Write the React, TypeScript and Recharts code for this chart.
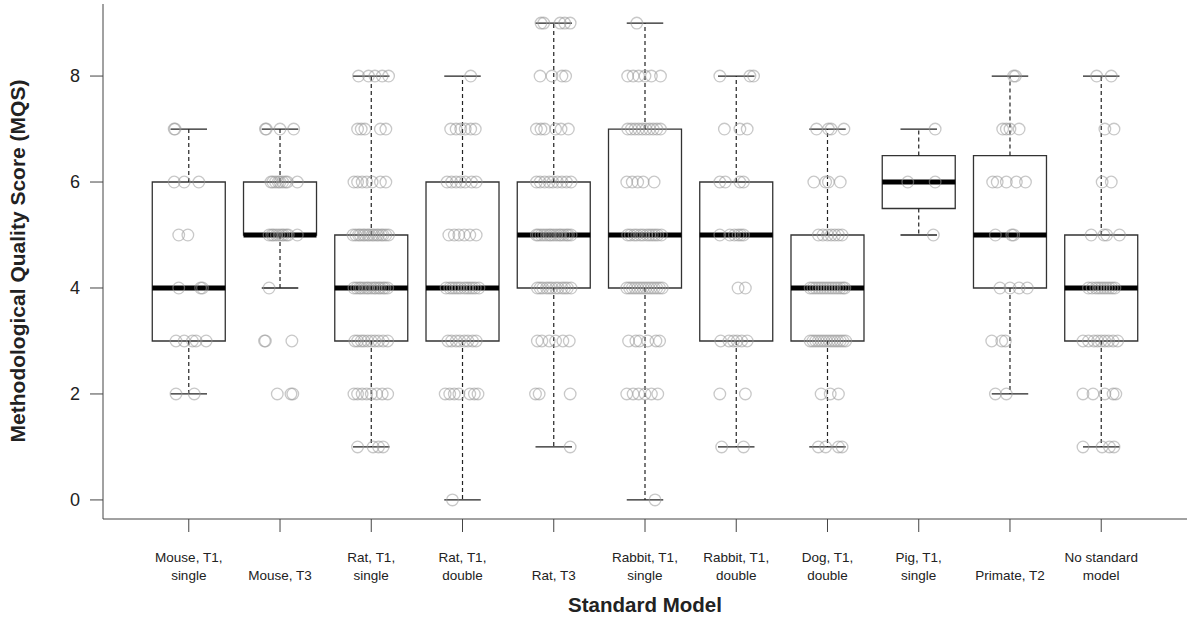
import { ComposedChart, XAxis, YAxis, Scatter, ReferenceArea, ReferenceLine } from "recharts";

// category labels, one entry per line of the tick text
const categoryLines: string[][] = [
  ["Mouse, T1,", "single"],
  ["Mouse, T3"],
  ["Rat, T1,", "single"],
  ["Rat, T1,", "double"],
  ["Rat, T3"],
  ["Rabbit, T1,", "single"],
  ["Rabbit, T1,", "double"],
  ["Dog, T1,", "double"],
  ["Pig, T1,", "single"],
  ["Primate, T2"],
  ["No standard", "model"],
];

// box statistics per category
const whiskerLow = [2, 4, 1, 0, 1, 0, 1, 1, 5, 2, 1];
const boxQ1 = [3, 5, 3, 3, 4, 4, 3, 3, 5.5, 4, 3];
const boxMedian = [4, 5, 4, 4, 5, 5, 5, 4, 6, 5, 4];
const boxQ3 = [6, 6, 5, 6, 6, 7, 6, 5, 6.5, 6.5, 5];
const whiskerHigh = [7, 7, 8, 8, 9, 9, 8, 7, 7, 8, 8];

// individual studies: [MQS, horizontal jitter in category units]
const mouseT1Single = [
  [7, -0.16], [7, -0.15],
  [6, -0.16], [6, -0.05], [6, 0.11],
  [5, -0.11], [5, -0.01],
  [4, -0.11], [4, 0.13], [4, 0.15],
  [3, -0.14], [3, -0.05], [3, 0.04], [3, 0.08], [3, 0.19],
  [2, -0.14], [2, 0.06],
];

const mouseT3 = [
  [7, -0.16], [7, -0.15], [7, 0.0], [7, 0.15],
  [6, -0.1], [6, -0.08], [6, -0.05], [6, -0.02], [6, 0.0], [6, 0.03], [6, 0.06], [6, 0.08], [6, 0.19],
  [5, -0.12], [5, -0.09], [5, -0.07], [5, -0.04], [5, -0.01], [5, 0.02], [5, 0.04], [5, 0.07], [5, 0.09], [5, 0.19],
  [4, -0.12],
  [3, -0.17], [3, -0.16], [3, 0.13],
  [2, -0.03], [2, 0.12], [2, 0.14],
];

const ratT1Single = [
  [8, -0.14], [8, -0.03], [8, 0.04], [8, 0.12], [8, 0.19],
  [7, -0.15], [7, -0.11], [7, -0.07], [7, 0.1], [7, 0.16],
  [6, -0.19], [6, -0.15], [6, -0.1], [6, -0.05], [6, 0.01], [6, 0.1], [6, 0.16],
  [5, -0.2], [5, -0.17], [5, -0.14], [5, -0.12], [5, -0.09], [5, -0.07], [5, -0.04], [5, -0.02],
  [5, 0.01], [5, 0.03], [5, 0.06], [5, 0.08], [5, 0.11], [5, 0.13], [5, 0.16], [5, 0.19],
  [4, -0.19], [4, -0.16], [4, -0.13], [4, -0.11], [4, -0.08], [4, -0.05], [4, -0.03], [4, 0.0],
  [4, 0.03], [4, 0.05], [4, 0.08], [4, 0.1], [4, 0.13], [4, 0.15], [4, 0.18],
  [3, -0.18], [3, -0.15], [3, -0.11], [3, -0.08], [3, -0.04], [3, 0.0], [3, 0.04], [3, 0.08], [3, 0.13], [3, 0.18],
  [2, -0.19], [2, -0.15], [2, -0.1], [2, -0.05], [2, 0.0], [2, 0.06], [2, 0.12], [2, 0.18],
  [1, -0.15], [1, 0.02], [1, 0.08], [1, 0.13],
];

const ratT1Double = [
  [8, 0.09],
  [7, -0.13], [7, -0.07], [7, -0.02], [7, 0.03], [7, 0.09], [7, 0.14],
  [6, -0.17], [6, -0.12], [6, -0.07], [6, -0.02], [6, 0.03], [6, 0.1], [6, 0.15],
  [5, -0.15], [5, -0.09], [5, -0.04], [5, 0.02], [5, 0.08], [5, 0.15],
  [4, -0.18], [4, -0.14], [4, -0.11], [4, -0.08], [4, -0.05], [4, -0.02],
  [4, 0.02], [4, 0.05], [4, 0.08], [4, 0.11], [4, 0.14], [4, 0.18],
  [3, -0.16], [3, -0.12], [3, -0.07], [3, -0.03], [3, 0.02], [3, 0.06], [3, 0.11], [3, 0.15],
  [2, -0.19], [2, -0.14], [2, -0.09], [2, -0.04], [2, 0.08], [2, 0.13], [2, 0.17],
  [0, -0.11],
];

const ratT3 = [
  [9, -0.14], [9, -0.11], [9, 0.07], [9, 0.12], [9, 0.18],
  [8, -0.15], [8, -0.02], [8, 0.09], [8, 0.13],
  [7, -0.19], [7, -0.14], [7, -0.1], [7, 0.02], [7, 0.08], [7, 0.16],
  [6, -0.19], [6, -0.15], [6, -0.1], [6, -0.05], [6, -0.01], [6, 0.04], [6, 0.09], [6, 0.14], [6, 0.19],
  [5, -0.19], [5, -0.17], [5, -0.14], [5, -0.11], [5, -0.08], [5, -0.05], [5, -0.03], [5, 0.0],
  [5, 0.03], [5, 0.06], [5, 0.08], [5, 0.11], [5, 0.14], [5, 0.16], [5, 0.19],
  [4, -0.18], [4, -0.15], [4, -0.12], [4, -0.08], [4, -0.05], [4, -0.02],
  [4, 0.02], [4, 0.05], [4, 0.09], [4, 0.12], [4, 0.15], [4, 0.19],
  [3, -0.18], [3, -0.13], [3, -0.05], [3, 0.02], [3, 0.1], [3, 0.17],
  [2, -0.2], [2, -0.16], [2, 0.18],
  [1, 0.18],
];

const rabbitT1Single = [
  [9, -0.09],
  [8, -0.19], [8, -0.13], [8, -0.07], [8, 0.0], [8, 0.07], [8, 0.17],
  [7, -0.19], [7, -0.15], [7, -0.11], [7, -0.07], [7, -0.03], [7, 0.01], [7, 0.05], [7, 0.09], [7, 0.13], [7, 0.17],
  [6, -0.2], [6, -0.14], [6, -0.08], [6, -0.02], [6, 0.1],
  [5, -0.19], [5, -0.16], [5, -0.12], [5, -0.09], [5, -0.05], [5, -0.02],
  [5, 0.02], [5, 0.05], [5, 0.08], [5, 0.11], [5, 0.14], [5, 0.18],
  [4, -0.2], [4, -0.17], [4, -0.14], [4, -0.11], [4, -0.08], [4, -0.05], [4, -0.02],
  [4, 0.01], [4, 0.04], [4, 0.07], [4, 0.1], [4, 0.13], [4, 0.16], [4, 0.19],
  [3, -0.18], [3, -0.1], [3, -0.06], [3, 0.03], [3, 0.12], [3, 0.16],
  [2, -0.2], [2, -0.13], [2, -0.07], [2, 0.0], [2, 0.07], [2, 0.14],
  [0, 0.11],
];

const rabbitT1Double = [
  [8, -0.18], [8, 0.15], [8, 0.19],
  [7, -0.13], [7, 0.04], [7, 0.12],
  [6, -0.18], [6, -0.12], [6, 0.04], [6, 0.08],
  [5, -0.18], [5, -0.07], [5, -0.02], [5, 0.02], [5, 0.05], [5, 0.08],
  [4, 0.02], [4, 0.1],
  [3, -0.17], [3, -0.08], [3, -0.03], [3, 0.01], [3, 0.06], [3, 0.12],
  [2, -0.18], [2, 0.1],
  [1, -0.16], [1, 0.08],
];

const dogT1Double = [
  [7, -0.12], [7, 0.01], [7, 0.04], [7, 0.18],
  [6, -0.15], [6, -0.02], [6, 0.01], [6, 0.14],
  [5, -0.1], [5, -0.05], [5, 0.0], [5, 0.04], [5, 0.08], [5, 0.12], [5, 0.16],
  [4, -0.19], [4, -0.16], [4, -0.13], [4, -0.1], [4, -0.07], [4, -0.04], [4, -0.01],
  [4, 0.02], [4, 0.05], [4, 0.08], [4, 0.11], [4, 0.14], [4, 0.17], [4, 0.19],
  [3, -0.19], [3, -0.16], [3, -0.13], [3, -0.1], [3, -0.07], [3, -0.04], [3, -0.01],
  [3, 0.02], [3, 0.05], [3, 0.08], [3, 0.11], [3, 0.14], [3, 0.17], [3, 0.2],
  [2, -0.07], [2, 0.03], [2, 0.12],
  [1, -0.1], [1, -0.02], [1, 0.12], [1, 0.16],
];

const pigT1Single = [
  [7, 0.18],
  [6, -0.12], [6, 0.18],
  [5, 0.16],
];

const primateT2 = [
  [8, 0.04], [8, 0.06],
  [7, -0.08], [7, -0.04], [7, 0.0], [7, 0.1],
  [6, -0.19], [6, -0.14], [6, -0.04], [6, 0.07], [6, 0.17],
  [5, -0.16], [5, 0.02], [5, 0.04],
  [4, -0.11], [4, 0.0], [4, 0.1], [4, 0.19],
  [3, -0.2], [3, -0.09], [3, -0.05],
  [2, -0.16], [2, -0.04],
];

const noStandardModel = [
  [8, -0.05], [8, 0.11],
  [7, 0.04], [7, 0.14],
  [6, 0.01], [6, 0.11],
  [5, -0.11], [5, 0.03], [5, 0.06], [5, 0.2],
  [4, -0.14], [4, -0.1], [4, -0.06], [4, -0.03], [4, 0.0], [4, 0.03], [4, 0.06], [4, 0.09], [4, 0.12], [4, 0.15],
  [3, -0.2], [3, -0.14], [3, -0.08], [3, -0.04], [3, 0.0], [3, 0.04], [3, 0.08], [3, 0.13], [3, 0.18],
  [2, -0.2], [2, -0.09], [2, 0.04], [2, 0.13], [2, 0.16],
  [1, -0.2], [1, 0.01], [1, 0.09], [1, 0.14],
];

const groups = [
  mouseT1Single, mouseT3, ratT1Single, ratT1Double, ratT3,
  rabbitT1Single, rabbitT1Double, dogT1Double, pigT1Single, primateT2, noStandardModel,
];

const yTicks = [0, 2, 4, 6, 8];
const categoryTicks = categoryLines.map((_, i) => i + 1);

const points = groups.flatMap((g, i) => g.map(([score, jitter]) => ({ x: i + 1 + jitter, y: score })));

const FONT = "'Liberation Sans', Arial, Helvetica, sans-serif";
const HALF_BOX = 0.4;
const HALF_STAPLE = 0.2;

const CategoryTick = (props: any) => {
  const { x, y, payload } = props;
  const lines = categoryLines[payload.value - 1] ?? [];
  const first = lines.length === 1 ? 1 : 0;
  return (
    <g>
      {lines.map((line, k) => (
        <text
          key={k}
          x={x}
          y={y + 28 + (first + k) * 18}
          textAnchor="middle"
          fontFamily={FONT}
          fontSize={13.5}
          fill="#222"
        >
          {line}
        </text>
      ))}
    </g>
  );
};

const StudyPoint = (props: any) => (
  <circle cx={props.cx} cy={props.cy} r={5.8} fill="none" stroke="#9a9a9a" strokeOpacity={0.55} strokeWidth={1.3} />
);

export default function App() {
  return (
    <div style={{ position: "absolute", left: 0, top: 0, width: 1187, height: 618, background: "#fff" }}>
      <ComposedChart width={1187} height={618} margin={{ top: 4, right: 0, bottom: 69, left: 43 }}>
        <XAxis
          type="number"
          dataKey="x"
          domain={[0.06, 11.94]}
          ticks={categoryTicks}
          allowDataOverflow
          interval={0}
          tickSize={13}
          tickLine={{ stroke: "#444" }}
          axisLine={{ stroke: "#444" }}
          tick={<CategoryTick />}
        />
        <YAxis
          type="number"
          dataKey="y"
          domain={[-0.36, 9.36]}
          ticks={yTicks}
          allowDataOverflow
          width={60}
          tickSize={13}
          tickMargin={10}
          tickLine={{ stroke: "#444" }}
          axisLine={{ stroke: "#444" }}
          tick={{ fontSize: 18, fill: "#222", fontFamily: FONT }}
        />
        {categoryTicks.map((c, i) => (
          <ReferenceArea
            key={`box-${c}`}
            x1={c - HALF_BOX}
            x2={c + HALF_BOX}
            y1={boxQ1[i]}
            y2={boxQ3[i]}
            fill="none"
            stroke="#333"
            strokeWidth={1.3}
          />
        ))}
        {categoryTicks.map((c, i) => [
          <ReferenceLine
            key={`wu-${c}`}
            segment={[{ x: c, y: boxQ3[i] }, { x: c, y: whiskerHigh[i] }]}
            stroke="#222"
            strokeDasharray="4 3"
            strokeWidth={1.2}
          />,
          <ReferenceLine
            key={`wl-${c}`}
            segment={[{ x: c, y: boxQ1[i] }, { x: c, y: whiskerLow[i] }]}
            stroke="#222"
            strokeDasharray="4 3"
            strokeWidth={1.2}
          />,
          <ReferenceLine
            key={`su-${c}`}
            segment={[{ x: c - HALF_STAPLE, y: whiskerHigh[i] }, { x: c + HALF_STAPLE, y: whiskerHigh[i] }]}
            stroke="#222"
            strokeWidth={1.3}
          />,
          <ReferenceLine
            key={`sl-${c}`}
            segment={[{ x: c - HALF_STAPLE, y: whiskerLow[i] }, { x: c + HALF_STAPLE, y: whiskerLow[i] }]}
            stroke="#222"
            strokeWidth={1.3}
          />,
          <ReferenceLine
            key={`md-${c}`}
            segment={[{ x: c - HALF_BOX, y: boxMedian[i] }, { x: c + HALF_BOX, y: boxMedian[i] }]}
            stroke="#000"
            strokeWidth={4.8}
          />,
        ])}
        <Scatter data={points} dataKey="y" shape={<StudyPoint />} isAnimationActive={false} />
      </ComposedChart>
      <div
        style={{
          position: "absolute",
          left: 103,
          width: 1084,
          top: 593,
          textAlign: "center",
          fontFamily: FONT,
          fontWeight: "bold",
          fontSize: 20.5,
          color: "#222",
        }}
      >
        Standard Model
      </div>
      <div
        style={{
          position: "absolute",
          left: 18 - 250,
          top: 261 - 13,
          width: 500,
          height: 26,
          lineHeight: "26px",
          textAlign: "center",
          transform: "rotate(-90deg)",
          fontFamily: FONT,
          fontWeight: "bold",
          fontSize: 21,
          color: "#222",
          whiteSpace: "nowrap",
        }}
      >
        Methodological Quality Score (MQS)
      </div>
    </div>
  );
}
